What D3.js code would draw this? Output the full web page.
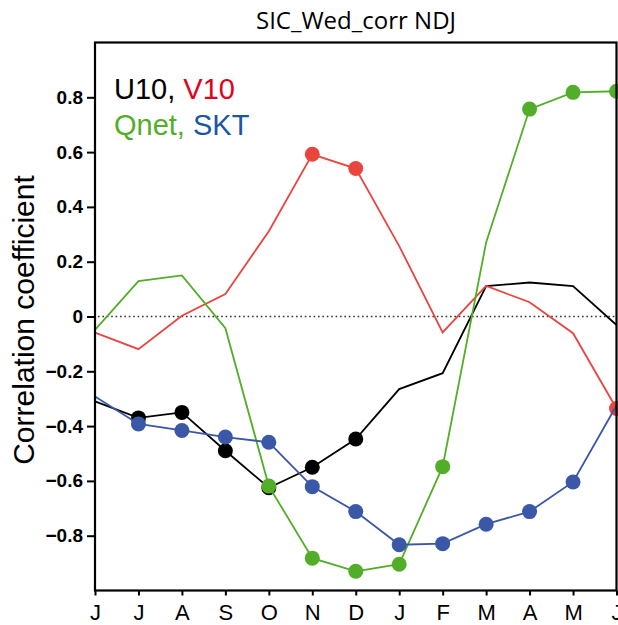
<!DOCTYPE html>
<html>
<head>
<meta charset="utf-8">
<script src="https://cdn.jsdelivr.net/npm/d3@7"></script>
<style>
  html, body { margin: 0; padding: 0; background: #fff; }
  svg { display: block; }
</style>
</head>
<body>
<div id="chart"></div>
<script>
// months along x (Jun -> Jun)
const months = ["J", "J", "A", "S", "O", "N", "D", "J", "F", "M", "A", "M", "J"];
const yTicks = [-0.8, -0.6, -0.4, -0.2, 0, 0.2, 0.4, 0.6, 0.8];

// correlation values
const u10  = [-0.31, -0.37, -0.35, -0.49, -0.625, -0.55, -0.447, -0.265, -0.207, 0.111, 0.124, 0.111, -0.031];
const v10  = [-0.059, -0.119, 0.003, 0.082, 0.311, 0.592, 0.54, 0.257, -0.058, 0.112, 0.052, -0.061, -0.336];
const qnet = [-0.049, 0.129, 0.15, -0.043, -0.619, -0.882, -0.93, -0.904, -0.548, 0.27, 0.757, 0.818, 0.822];
const skt  = [-0.292, -0.392, -0.416, -0.44, -0.459, -0.621, -0.712, -0.833, -0.829, -0.758, -0.712, -0.604, -0.325];

// which months get a filled dot (significant ones)
const u10Dots  = [1, 2, 3, 4, 5, 6];
const v10Dots  = [5, 6, 12];
const qnetDots = [4, 5, 6, 7, 8, 10, 11, 12];
const sktDots  = [1, 2, 3, 4, 5, 6, 7, 8, 9, 10, 11];

const W = 618, H = 625;
const plotL = 95, plotR = 616.5, plotT = 42.5, plotB = 590.5;

const svg = d3.select("#chart").append("svg")
    .attr("width", W)
    .attr("height", H);

const x = d3.scaleLinear().domain([0, 12]).range([plotL, plotR]);
const y = d3.scaleLinear().domain([-1, 1]).range([plotB, plotT]);

// title
svg.append("text")
    .attr("x", 356)
    .attr("y", 29)
    .attr("text-anchor", "middle")
    .style("font-family", "'Open Sans', 'Noto Sans', sans-serif")
    .style("font-size", "24px")
    .text("SIC_Wed_corr NDJ");

// y label
svg.append("text")
    .attr("transform", `translate(34,320) rotate(-90)`)
    .attr("text-anchor", "middle")
    .style("font-family", "'Liberation Sans', Arial, sans-serif")
    .style("font-size", "30px")
    .text("Correlation coefficient");

// zero line, dotted
svg.append("line")
    .attr("x1", plotL + 3).attr("x2", plotR)
    .attr("y1", y(0)).attr("y2", y(0))
    .attr("stroke", "#333")
    .attr("stroke-width", 1.6)
    .attr("stroke-dasharray", "1.6,2.8");

const series = [
    { vals: u10,  dots: u10Dots,  color: "#000000" },
    { vals: v10,  dots: v10Dots,  color: "#e8453f" },
    { vals: qnet, dots: qnetDots, color: "#52ad28" },
    { vals: skt,  dots: sktDots,  color: "#3a57a8" }
];

const line = d3.line()
    .x((d, i) => x(i))
    .y(d => y(d));

series.forEach(s => {
    svg.append("path")
        .datum(s.vals)
        .attr("fill", "none")
        .attr("stroke", s.color)
        .attr("stroke-width", 1.8)
        .attr("d", line);
    svg.selectAll(null)
        .data(s.dots)
        .enter()
        .append("circle")
        .attr("cx", i => x(i))
        .attr("cy", i => y(s.vals[i]))
        .attr("r", 7.5)
        .attr("fill", s.color);
});

// axes
const yAxis = d3.axisLeft(y)
    .tickValues(yTicks)
    .tickSize(8)
    .tickPadding(4)
    .tickFormat(d => d === 0 ? "0" : d3.format(".1f")(d).replace("-", "\u2212"));
const gy = svg.append("g")
    .attr("transform", `translate(${plotL},0)`)
    .call(yAxis);
gy.select(".domain").remove();
gy.selectAll("line").attr("stroke-width", 2);
gy.selectAll("text")
    .style("font-family", "'Liberation Sans', Arial, sans-serif")
    .style("font-size", "19px")
    .style("font-weight", "bold");

const xAxis = d3.axisBottom(x)
    .tickValues(d3.range(13))
    .tickSize(5)
    .tickPadding(9)
    .tickFormat(i => months[i]);
const gx = svg.append("g")
    .attr("transform", `translate(0,${plotB})`)
    .call(xAxis);
gx.select(".domain").remove();
gx.selectAll("line").attr("stroke-width", 2);
gx.selectAll("text")
    .style("font-family", "'Liberation Sans', Arial, sans-serif")
    .style("font-size", "22px");

// frame
svg.append("rect")
    .attr("x", plotL).attr("y", plotT)
    .attr("width", plotR - plotL).attr("height", plotB - plotT)
    .attr("fill", "none")
    .attr("stroke", "#000")
    .attr("stroke-width", 2.2);

// legend text
const legend = svg.append("g")
    .style("font-family", "'Liberation Sans', Arial, sans-serif")
    .style("font-size", "29px");
const l1 = legend.append("text").attr("x", 114).attr("y", 99);
l1.append("tspan").attr("fill", "#000").text("U10, ");
l1.append("tspan").attr("fill", "#e3001b").text("V10");
const l2 = legend.append("text").attr("x", 114).attr("y", 135);
l2.append("tspan").attr("fill", "#52ad28").text("Qnet, ");
l2.append("tspan").attr("fill", "#1a56a6").text("SKT");
</script>
</body>
</html>
